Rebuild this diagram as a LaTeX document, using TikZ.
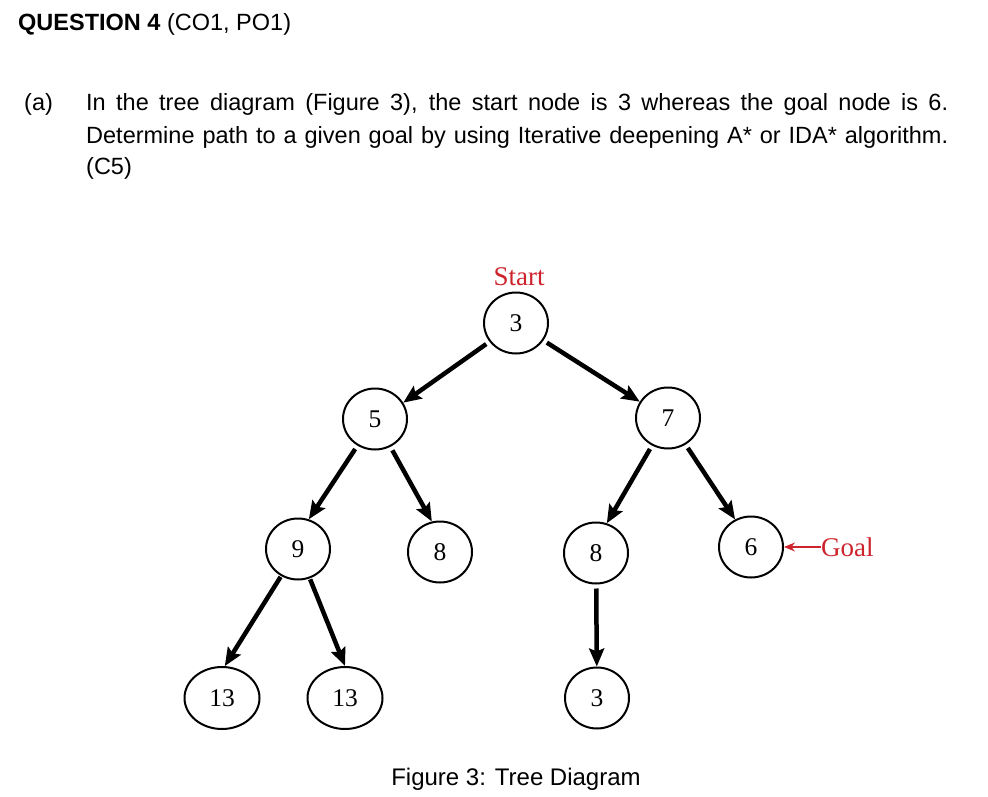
\documentclass[tikz,border=0pt]{standalone}
\usepackage{fontspec}
\setmainfont{Liberation Sans}
\newfontfamily\serifnum{Liberation Serif}
\usetikzlibrary{shapes.geometric,arrows.meta}
\definecolor{lblred}{RGB}{205,35,45}
\tikzset{
  tnode/.style={ellipse, draw, line width=2pt, minimum width=64pt, minimum height=61pt, inner sep=0pt, font=\serifnum\fontsize{25.5}{25.5}\selectfont},
  wnode/.style={tnode, minimum width=75pt, minimum height=62pt},
  edge/.style={line width=4.5pt, shorten <=4pt, -{Stealth[length=18pt,width=15pt,inset=3pt]}},
  redlbl/.style={text=lblred, font=\serifnum\fontsize{27}{27}\selectfont, inner sep=0pt},
  para/.style={font=\fontsize{23.5}{32}\selectfont, inner sep=0pt, anchor=base west}
}
\begin{document}
\begin{tikzpicture}[x=1pt,y=-1pt]
\useasboundingbox (0,0) rectangle (988,797);
% header
\node[para] (hdr) at (18,31) {\textbf{QUESTION 4} (CO1, PO1)};
\node[para] (lbl) at (24,111) {(a)};
\node[para] (l1) at (86,111) {\makebox[862pt][s]{In the tree diagram (Figure 3), the start node is 3 whereas the goal node is 6.}};
\node[para] (l2) at (86,143) {\makebox[862pt][s]{Determine path to a given goal by using Iterative deepening A* or IDA* algorithm.}};
\node[para] (l3) at (86,175) {(C5)};
% tree
\node[tnode] (n3) at (516,323) {3};
\node[tnode] (n5) at (375,419) {5};
\node[tnode] (n7) at (668,418) {7};
\node[tnode] (n9) at (298,549) {9};
\node[tnode] (n8a) at (440,552) {8};
\node[tnode] (n8b) at (596,553) {8};
\node[tnode] (n6) at (751,547) {6};
\node[wnode] (n13a) at (222,698) {13};
\node[wnode] (n13b) at (345,698) {13};
\node[tnode] (n3b) at (597,698) {3};
\draw[edge] (n3) -- (n5.30);
\draw[edge] (n3) -- (n7.150);
\draw[edge] (n5) -- (n9.70);
\draw[edge] (n5) -- (n8a.105);
\draw[edge] (n7) -- (n8b.70);
\draw[edge] (n7) -- (n6.120);
\draw[edge, shorten <=1pt] (n9) -- (n13a.85);
\draw[edge, shorten <=1pt] (n9) -- (n13b.north);
\draw[edge] (n8b) -- (n3b);
% labels
\node[redlbl] (start) at (519,277) {Start};
\node[redlbl, anchor=west] (goal) at (821,547) {Goal};
\draw[lblred, line width=1.2pt, -{Stealth[length=11pt,width=9pt]}] (goal.west) -- (n6.east);
% caption
\node[font=\fontsize{24}{28}\selectfont, inner sep=0pt] (cap) at (516,779) {Figure 3: Tree Diagram};
\end{tikzpicture}
\end{document}
